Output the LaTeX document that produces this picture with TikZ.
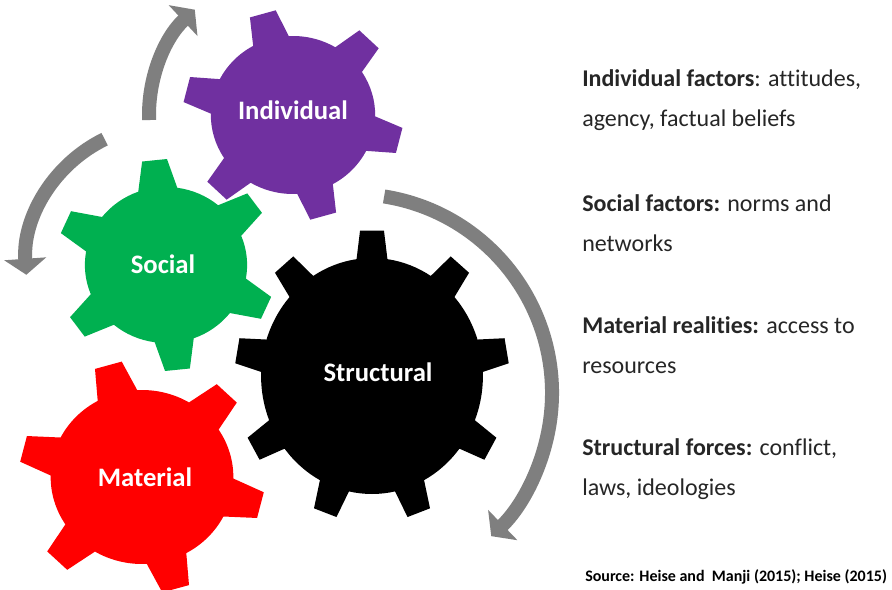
\documentclass[tikz,border=0pt]{standalone}
\usepackage{fontspec}
\setmainfont{Carlito}[Ligatures=NoCommon]
\usetikzlibrary{positioning,arrows.meta}

\definecolor{indivpurple}{HTML}{7030A0}
\definecolor{socialgreen}{HTML}{00B050}
\definecolor{matred}{HTML}{FF0000}
\definecolor{arrowgray}{HTML}{7F7F7F}

\tikzstyle{gearlabel}=[text=white, font=\fontsize{20}{23}\selectfont\bfseries]
\tikzstyle{factor}=[anchor=west, align=left, inner sep=0pt, text=black!85, font=\fontsize{18}{30}\selectfont]
\tikzstyle{cyclearrow}=[draw=arrowgray, line width=10.5pt, -{Triangle[width=31pt,length=12pt]}]

% gear: center, xscale, colour, teeth, body r, tip r, first tooth angle, base half-angle, tip half-angle
\newcommand{\gear}[9]{%
  \begin{scope}[shift={(#1)}, xscale=#2]
    \fill[#3] ({#7+360/#4-#8}:#5)
      \foreach \k in {1,...,#4} {
        -- ({#7+360/#4*\k-#8}:#5) -- ({#7+360/#4*\k-#9}:#6)
        -- ({#7+360/#4*\k+#9}:#6) -- ({#7+360/#4*\k+#8}:#5)
        arc[start angle={#7+360/#4*\k+#8}, end angle={#7+360/#4*(\k+1)-#8}, radius=#5]
      } -- cycle;
  \end{scope}}

\begin{document}
\begin{tikzpicture}[x=0.75pt, y=0.75pt]
\clip (0,0) rectangle (892,-589);
\fill[white] (0,0) rectangle (892,-589);

\coordinate (indiv) at (293,-115);
\coordinate (social) at (166,-265);
\coordinate (material) at (142,-477);
\coordinate (struct) at (372,-376);

% the four gears
\gear{indiv}{1.04}{indivpurple}{6}{79}{106}{46}{13}{7}
\gear{social}{1.04}{socialgreen}{6}{78}{106}{96}{14}{6.5}
\gear{material}{1.05}{matred}{6}{87}{117}{46}{13}{6.5}
\gear{struct}{0.94}{black}{9}{118}{146}{90}{8}{5}

\node[gearlabel] (indivlbl) at (293,-110) {Individual};
\node[gearlabel] (sociallbl) at (163,-264) {Social};
\node[gearlabel] (matlbl) at (145,-477) {Material};
\node[gearlabel] (structlbl) at (378,-372) {Structural};

% cycle arrows
\draw[cyclearrow] (indiv) ++(182:144) arc[start angle=182, end angle=133, radius=144];
\draw[cyclearrow] (social) ++(116:140) arc[start angle=116, end angle=184, radius=140];
\coordinate (bigarc) at (353,-393);
\draw[cyclearrow] (bigarc) ++(81:199) arc[start angle=81, end angle=-46, radius=199];

% legend
\node[factor] (indivtext) at (582,-100) {\textbf{Individual factors}: attitudes,\\agency, factual beliefs};
\node[factor, below=92pt of indivtext.west, anchor=west] (socialtext) {\textbf{Social factors:} norms and\\networks};
\node[factor, below=92pt of socialtext.west, anchor=west] (mattext) {\textbf{Material realities:} access to\\resources};
\node[factor, below=93pt of mattext.west, anchor=west] (structtext) {\textbf{Structural forces:} conflict,\\laws, ideologies};
\node[anchor=west, inner sep=0pt, font=\fontsize{12}{14}\selectfont\bfseries] (source) at (585,-577) {Source: Heise and\ \ Manji (2015); Heise (2015)};
\end{tikzpicture}
\end{document}
